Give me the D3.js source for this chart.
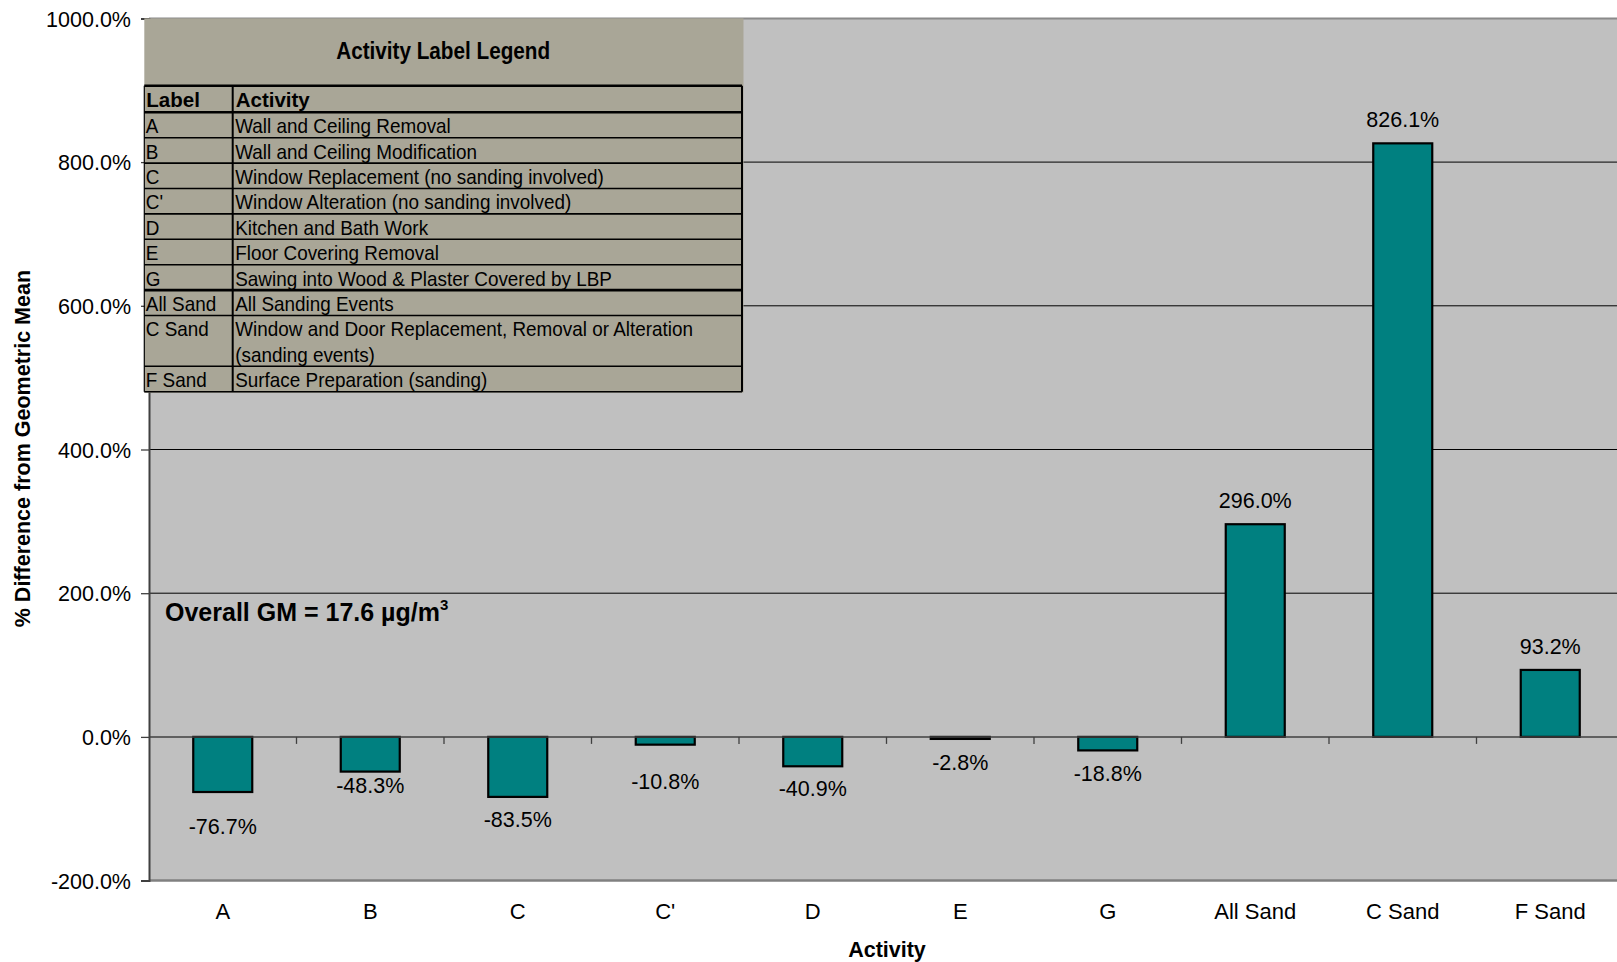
<!DOCTYPE html>
<html><head><meta charset="utf-8">
<script src="https://cdn.jsdelivr.net/npm/d3@7"></script>
<style>
body{margin:0;background:#fff}
svg text{font-family:"Liberation Sans",Arial,Helvetica,sans-serif;fill:#000}
</style>
</head><body>
<svg id="chart" width="1617" height="962"></svg>
<script>
// ---------------- data ----------------
const categories = ["A", "B", "C", "C'", "D", "E", "G", "All Sand", "C Sand", "F Sand"];
const values = [-76.7, -48.3, -83.5, -10.8, -40.9, -2.8, -18.8, 296.0, 826.1, 93.2];
const yTicks = [-200, 0, 200, 400, 600, 800, 1000];
const gridValues = [200, 400, 600, 800];
const legendLabels = ["A", "B", "C", "C'", "D", "E", "G", "All Sand", "C Sand", "F Sand"];
const legendActivities = [
  ["Wall and Ceiling Removal"],
  ["Wall and Ceiling Modification"],
  ["Window Replacement (no sanding involved)"],
  ["Window Alteration (no sanding involved)"],
  ["Kitchen and Bath Work"],
  ["Floor Covering Removal"],
  ["Sawing into Wood & Plaster Covered by LBP"],
  ["All Sanding Events"],
  ["Window and Door Replacement, Removal or Alteration", "(sanding events)"],
  ["Surface Preparation (sanding)"]
];
const legendTitle = "Activity Label Legend";
const legendHeader = ["Label", "Activity"];
const yTitle = "% Difference from Geometric Mean";
const xTitle = "Activity";
const noteText = "Overall GM = 17.6 \u00b5g/m";
const noteSup = "3";

// ---------------- layout ----------------
const W = 1617, H = 962;
const plot = {left: 149, right: 1624, top: 18.4, bottom: 880.6};
// per-label vertical nudges (px) for the value labels, as placed in the original
const labelGap = [42, 21, 30, 44, 30, 31, 31, 16, 16, 16];

const locale = d3.formatLocale({decimal: ".", thousands: ",", grouping: [3], currency: ["", ""], minus: "-"});
const pct = v => locale.format(".1f")(v) + "%";

const svg = d3.select("#chart");

const x = d3.scaleBand().domain(categories).range([plot.left, plot.right])
  .paddingInner(0.6).paddingOuter(0.3);
const y = d3.scaleLinear().domain([-200, 1000]).range([plot.bottom, plot.top]);

// plot background
svg.append("rect").attr("x", plot.left).attr("y", plot.top)
  .attr("width", plot.right - plot.left).attr("height", plot.bottom - plot.top)
  .attr("fill", "#C0C0C0");

// gridlines
svg.append("g").selectAll("line").data(gridValues).join("line")
  .attr("x1", plot.left).attr("x2", plot.right)
  .attr("y1", d => y(d)).attr("y2", d => y(d))
  .attr("stroke", "#000").attr("stroke-width", 1);

// top & bottom borders
svg.append("line").attr("x1", plot.left).attr("x2", plot.right)
  .attr("y1", y(1000)).attr("y2", y(1000)).attr("stroke", "#8a8a8a").attr("stroke-width", 2);
svg.append("line").attr("x1", plot.left).attr("x2", plot.right)
  .attr("y1", y(-200)).attr("y2", y(-200)).attr("stroke", "#808080").attr("stroke-width", 2.5);

// bars
svg.append("g").selectAll("rect").data(values).join("rect")
  .attr("x", (d, i) => x(categories[i]))
  .attr("width", x.bandwidth())
  .attr("y", d => y(Math.max(0, d)))
  .attr("height", d => Math.abs(y(d) - y(0)))
  .attr("fill", "#008080").attr("stroke", "#000").attr("stroke-width", 2.2);

// zero line (x axis) with ticks at category boundaries
svg.append("line").attr("x1", plot.left).attr("x2", plot.right)
  .attr("y1", y(0)).attr("y2", y(0)).attr("stroke", "#404040").attr("stroke-width", 1.5);
const step = x.step();
svg.append("g").selectAll("line").data(d3.range(1, categories.length)).join("line")
  .attr("x1", i => plot.left + i * step).attr("x2", i => plot.left + i * step)
  .attr("y1", y(0)).attr("y2", y(0) + 7)
  .attr("stroke", "#404040").attr("stroke-width", 1.3);

// y axis
const yAxis = d3.axisLeft(y).tickValues(yTicks).tickSize(8).tickPadding(10).tickFormat(pct);
const ga = svg.append("g").attr("transform", `translate(${plot.left},0)`).call(yAxis);
ga.select(".domain").attr("stroke", "#404040").attr("stroke-width", 2);
ga.selectAll(".tick line").attr("stroke", "#404040").attr("stroke-width", 1.3);
ga.selectAll(".tick text").attr("font-size", 21.5)
  .attr("font-family", "'Liberation Sans', Arial, sans-serif").attr("fill", "#000")
  .attr("dy", "0.36em");

// category labels
svg.append("g").selectAll("text").data(categories).join("text")
  .attr("x", d => x(d) + x.bandwidth() / 2).attr("y", 919)
  .attr("text-anchor", "middle").attr("font-size", 22).text(d => d);

// value labels
svg.append("g").selectAll("text").data(values).join("text")
  .attr("x", (d, i) => x(categories[i]) + x.bandwidth() / 2)
  .attr("y", (d, i) => d >= 0 ? y(d) - labelGap[i] : y(d) + labelGap[i])
  .attr("text-anchor", "middle").attr("font-size", 21.5)
  .text(d => pct(d));

// axis titles
svg.append("text").attr("transform", `translate(30,${(262 + 608) / 2 * 1.03125}) rotate(-90)`)
  .attr("text-anchor", "middle").attr("font-size", 21.5).attr("font-weight", "bold").text(yTitle);
svg.append("text").attr("x", 887).attr("y", 957)
  .attr("text-anchor", "middle").attr("font-size", 21.5).attr("font-weight", "bold").text(xTitle);

// note
const note = svg.append("text").attr("x", 165).attr("y", 621)
  .attr("font-size", 25).attr("font-weight", "bold");
note.append("tspan").text(noteText);
note.append("tspan").attr("font-size", 15).attr("dy", -11).text(noteSup);

// ---------------- legend table ----------------
const lg = {x0: 144.3, x1: 232.7, x2: 742, top: 18.4, headTop: 85.7, headBottom: 112.3, rowH: 25.4};
const cond = 0.9; // horizontal condensing of the table text
const legend = svg.append("g");
const rowLines = legendActivities.map(a => a.length);
const rowTops = [];
let acc = lg.headBottom;
rowLines.forEach(n => { rowTops.push(acc); acc += n * lg.rowH; });
const lgBottom = acc;

legend.append("rect").attr("x", lg.x0).attr("y", lg.top)
  .attr("width", lg.x2 + 1.5 - lg.x0).attr("height", lgBottom + 1 - lg.top)
  .attr("fill", "#A9A697");

// title
legend.append("text").attr("transform", `translate(${(lg.x0 + lg.x2) / 2},59) scale(${cond},1)`)
  .attr("text-anchor", "middle").attr("font-size", 23).attr("font-weight", "bold").text(legendTitle);

// horizontal lines
const hLines = [lg.headTop, lg.headBottom, ...rowTops.slice(1), lgBottom];
legend.append("g").selectAll("line").data(hLines).join("line")
  .attr("x1", lg.x0).attr("x2", lg.x2)
  .attr("y1", d => d).attr("y2", d => d)
  .attr("stroke", "#000")
  .attr("stroke-width", (d, i) => (i <= 1 || i === 8) ? 2.6 : 1.6);
// vertical lines
legend.append("g").selectAll("line").data([lg.x0, lg.x1, lg.x2]).join("line")
  .attr("x1", d => d).attr("x2", d => d)
  .attr("y1", lg.headTop).attr("y2", lgBottom)
  .attr("stroke", "#000").attr("stroke-width", (d, i) => i === 0 ? 1.2 : 2);

// header texts
legend.append("text").attr("x", lg.x0 + 2).attr("y", lg.headBottom - 5)
  .attr("font-size", 20.5).attr("font-weight", "bold").text(legendHeader[0]);
legend.append("text").attr("x", lg.x1 + 3).attr("y", lg.headBottom - 5)
  .attr("font-size", 20.5).attr("font-weight", "bold").text(legendHeader[1]);

// row texts
legend.append("g").selectAll("text").data(legendLabels).join("text")
  .attr("transform", (d, i) => `translate(${lg.x0 + 1.5},${rowTops[i] + lg.rowH - 4.5}) scale(${cond},1)`)
  .attr("font-size", 21).text(d => d);
legendActivities.forEach((lines, i) => {
  lines.forEach((t, j) => {
    legend.append("text")
      .attr("transform", `translate(${lg.x1 + 2.5},${rowTops[i] + (j + 1) * lg.rowH - 4.5}) scale(${cond},1)`)
      .attr("font-size", 21).text(t);
  });
});
</script>
</body></html>
